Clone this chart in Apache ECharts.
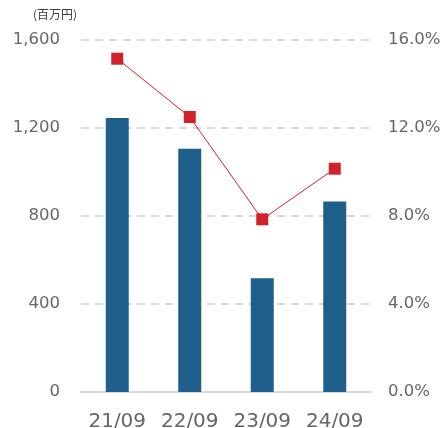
<!DOCTYPE html>
<html><head><meta charset="utf-8">
<script src="https://cdn.jsdelivr.net/npm/echarts@6/dist/echarts.min.js"></script>
<style>html,body{margin:0;padding:0;background:#fff}#c{width:441px;height:428px}</style>
</head><body><div id="c"></div>
<script>
const categories = ['21/09','22/09','23/09','24/09'];
const barValues = [1246, 1106, 517, 866];
const lineValues = [15.15, 12.5, 7.85, 10.15];
const leftTicks = [0, 400, 800, 1200, 1600];
const rightTicks = [0, 4, 8, 12, 16];

const chart = echarts.init(document.getElementById('c'));
const font = 'DejaVu Sans, Verdana, sans-serif';
chart.setOption({
  animation: false,
  grid: {left: 81, right: 70, top: 40, bottom: 36, outerBoundsMode: 'none', containLabel: false},
  graphic: [{type:'text', left: 33, top: 8, style:{text:'(百万円)', font:'12px "Noto Sans CJK JP", sans-serif', fill:'#404040'}}],
  xAxis: {
    type: 'category', data: categories,
    axisLine: {lineStyle: {color: '#d9d9d9', width: 2}},
    axisTick: {show: false},
    axisLabel: {color: '#666666', fontSize: 20, fontFamily: font, margin: 20, interval: 0, hideOverlap: false}
  },
  yAxis: [{
    type: 'value', min: leftTicks[0], max: leftTicks[leftTicks.length-1], interval: 400,
    axisLine: {show: false}, axisTick: {show: false},
    axisLabel: {color: '#666666', fontSize: 16.5, fontFamily: font, margin: 21,
      formatter: v => v.toLocaleString('en-US')},
    splitLine: {lineStyle: {color: '#d9d9d9', type: [8, 6], width: 2}}
  }, {
    type: 'value', min: rightTicks[0], max: rightTicks[rightTicks.length-1], interval: 4,
    axisLine: {show: false}, axisTick: {show: false},
    axisLabel: {color: '#666666', fontSize: 16.5, fontFamily: font, margin: 17,
      formatter: v => v.toFixed(1) + '%'},
    splitLine: {show: false}
  }],
  series: [{
    type: 'bar', data: barValues, barWidth: 23,
    itemStyle: {color: '#1f5f8b'}
  }, {
    type: 'line', yAxisIndex: 1, data: lineValues,
    symbol: 'rect', symbolSize: 12,
    lineStyle: {color: '#d0222a', width: 1},
    itemStyle: {color: '#d0222a'}
  }]
});
</script></body></html>
